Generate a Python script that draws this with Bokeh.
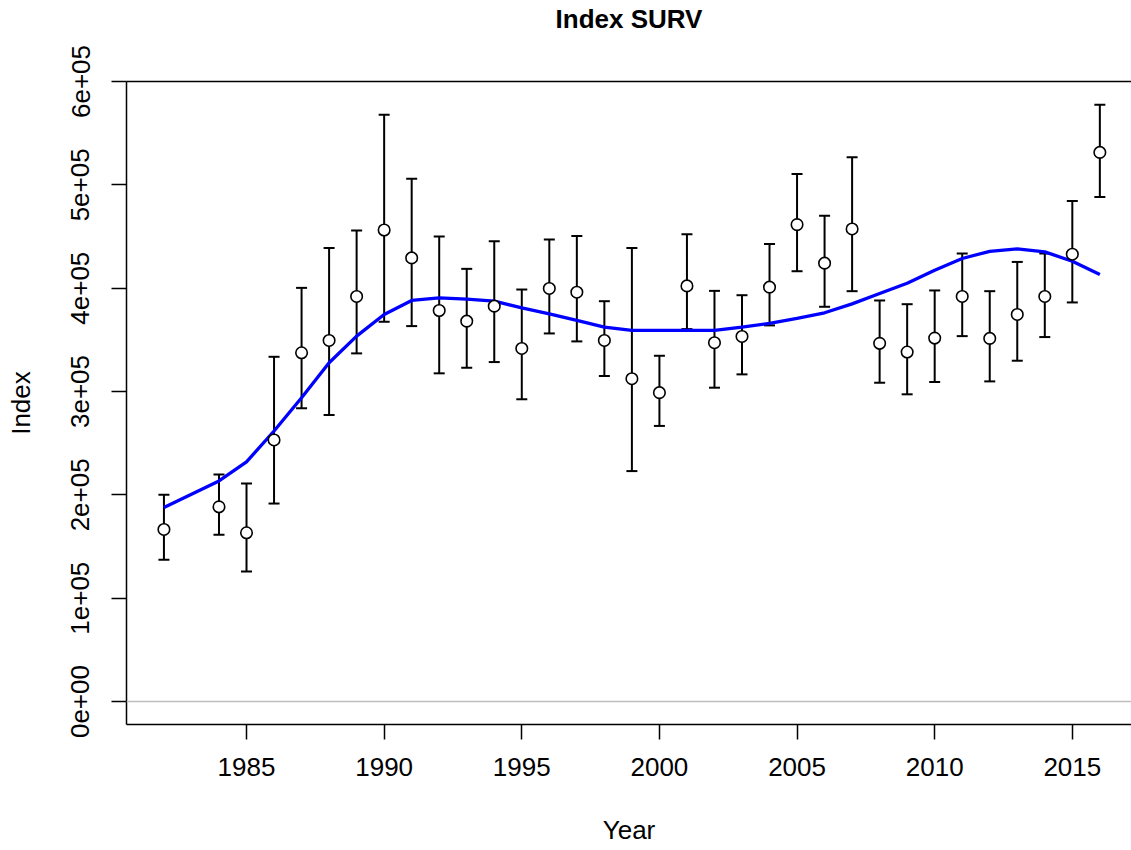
from bokeh.plotting import figure
from bokeh.models import Range1d, FixedTicker, Span, Whisker, TeeHead, ColumnDataSource, LinearAxis
from bokeh.embed import file_html
from bokeh.resources import INLINE

years = [1982, 1984, 1985, 1986, 1987, 1988, 1989, 1990, 1991, 1992, 1993, 1994,
         1995, 1996, 1997, 1998, 1999, 2000, 2001, 2002, 2003, 2004, 2005, 2006,
         2007, 2008, 2009, 2010, 2011, 2012, 2013, 2014, 2015, 2016]
observed = [166500, 188400, 163300, 253100, 337500, 349400, 392000, 456300, 429300, 378400,
            368100, 382600, 341700, 399700, 396100, 349400, 312400, 298900, 402200, 347200,
            353300, 401000, 461500, 424200, 457300, 346600, 338200, 351700, 392000, 351400,
            374600, 392000, 432900, 531400]
upper = [200000, 219600, 210900, 333600, 400300, 439000, 455700, 567800, 506000, 449900,
         418700, 445400, 398700, 447000, 450500, 387400, 439000, 334600, 452200, 397400,
         393200, 442800, 510500, 470200, 526600, 388100, 384500, 397800, 433500, 397100,
         425400, 433500, 484400, 577500]
lower = [137200, 161400, 125900, 191600, 283800, 277300, 336900, 367500, 363300, 317600,
         323000, 328500, 292500, 356200, 348500, 315000, 223000, 266700, 360400, 303700,
         316600, 364000, 416400, 382000, 397100, 308500, 297300, 309200, 353600, 309800,
         329800, 352700, 386200, 488200]
fitted = [187700, 213500, 232000, 261800, 294000, 327800, 353600, 374600, 388100, 390600,
          389400, 387400, 381000, 375200, 368800, 362300, 359100, 359100, 359100, 359100,
          362300, 365900, 370700, 376200, 384800, 394900, 404800, 417400, 428700, 435700,
          438000, 435100, 426100, 413200]

x_ticks = [1985, 1990, 1995, 2000, 2005, 2010, 2015]
y_ticks = [0, 100000, 200000, 300000, 400000, 500000, 600000]
y_tick_labels = ["0e+00", "1e+05", "2e+05", "3e+05", "4e+05", "5e+05", "6e+05"]
title_text = "Index SURV"

FONT = "Liberation Sans"

src = ColumnDataSource(dict(year=years, obs=observed, up=upper, lo=lower, fit=fitted))

p = figure(width=1131, height=850, output_backend="svg", toolbar_location=None,
           x_range=Range1d(1980.64, 2017.15), y_range=Range1d(-22222, 600000),
           min_border_left=126, min_border_right=0, min_border_bottom=126, min_border_top=80,
           x_axis_label="Year", y_axis_label="Index")
p.grid.visible = False
p.outline_line_color = None
p.background_fill_color = "white"
p.border_fill_color = "white"

for ax in (p.xaxis[0], p.yaxis[0]):
    ax.major_tick_out = 15
    ax.major_tick_in = 0
    ax.minor_tick_out = 0
    ax.minor_tick_in = 0
    ax.axis_line_width = 1.5
    ax.axis_line_color = "black"
    ax.major_tick_line_width = 1.5
    ax.major_tick_line_color = "black"
    ax.major_label_text_font = FONT
    ax.major_label_text_font_size = "26px"
    ax.major_label_text_color = "black"
    ax.axis_label_text_font = FONT
    ax.axis_label_text_font_size = "26px"
    ax.axis_label_text_font_style = "normal"
    ax.axis_label_text_color = "black"

p.xaxis.major_label_standoff = 18
p.xaxis.axis_label_standoff = 36
p.yaxis.major_label_standoff = 22
p.yaxis.axis_label_standoff = 33

p.xaxis.ticker = FixedTicker(ticks=x_ticks)
p.yaxis.ticker = FixedTicker(ticks=y_ticks)
p.yaxis.major_label_overrides = {t: s for t, s in zip(y_ticks, y_tick_labels)}
p.yaxis.major_label_orientation = "vertical"

# top side of the box, carrying the chart title as its label
top_axis = LinearAxis(ticker=FixedTicker(ticks=[]), major_label_text_font_size="0px",
                      major_tick_out=0, major_tick_in=0, minor_tick_out=0, minor_tick_in=0,
                      major_label_standoff=0,
                      axis_line_width=1.5, axis_line_color="black",
                      axis_label=title_text, axis_label_text_font=FONT,
                      axis_label_text_font_size="26px", axis_label_text_font_style="bold",
                      axis_label_text_color="black", axis_label_standoff=48)
p.add_layout(top_axis, "above")

p.add_layout(Span(location=0, dimension="width", line_color="#bebebe", line_width=1.5))

whisk = Whisker(source=src, base="year", upper="up", lower="lo",
                line_color="black", line_width=2,
                upper_head=TeeHead(size=11, line_color="black", line_width=2),
                lower_head=TeeHead(size=11, line_color="black", line_width=2))
p.add_layout(whisk)

p.line("year", "fit", source=src, line_color="#0000ff", line_width=3.3)
p.scatter("year", "obs", source=src, marker="circle", size=11.5,
          fill_color="white", line_color="black", line_width=1.6)

open("out.html", "w").write(file_html(p, INLINE))
